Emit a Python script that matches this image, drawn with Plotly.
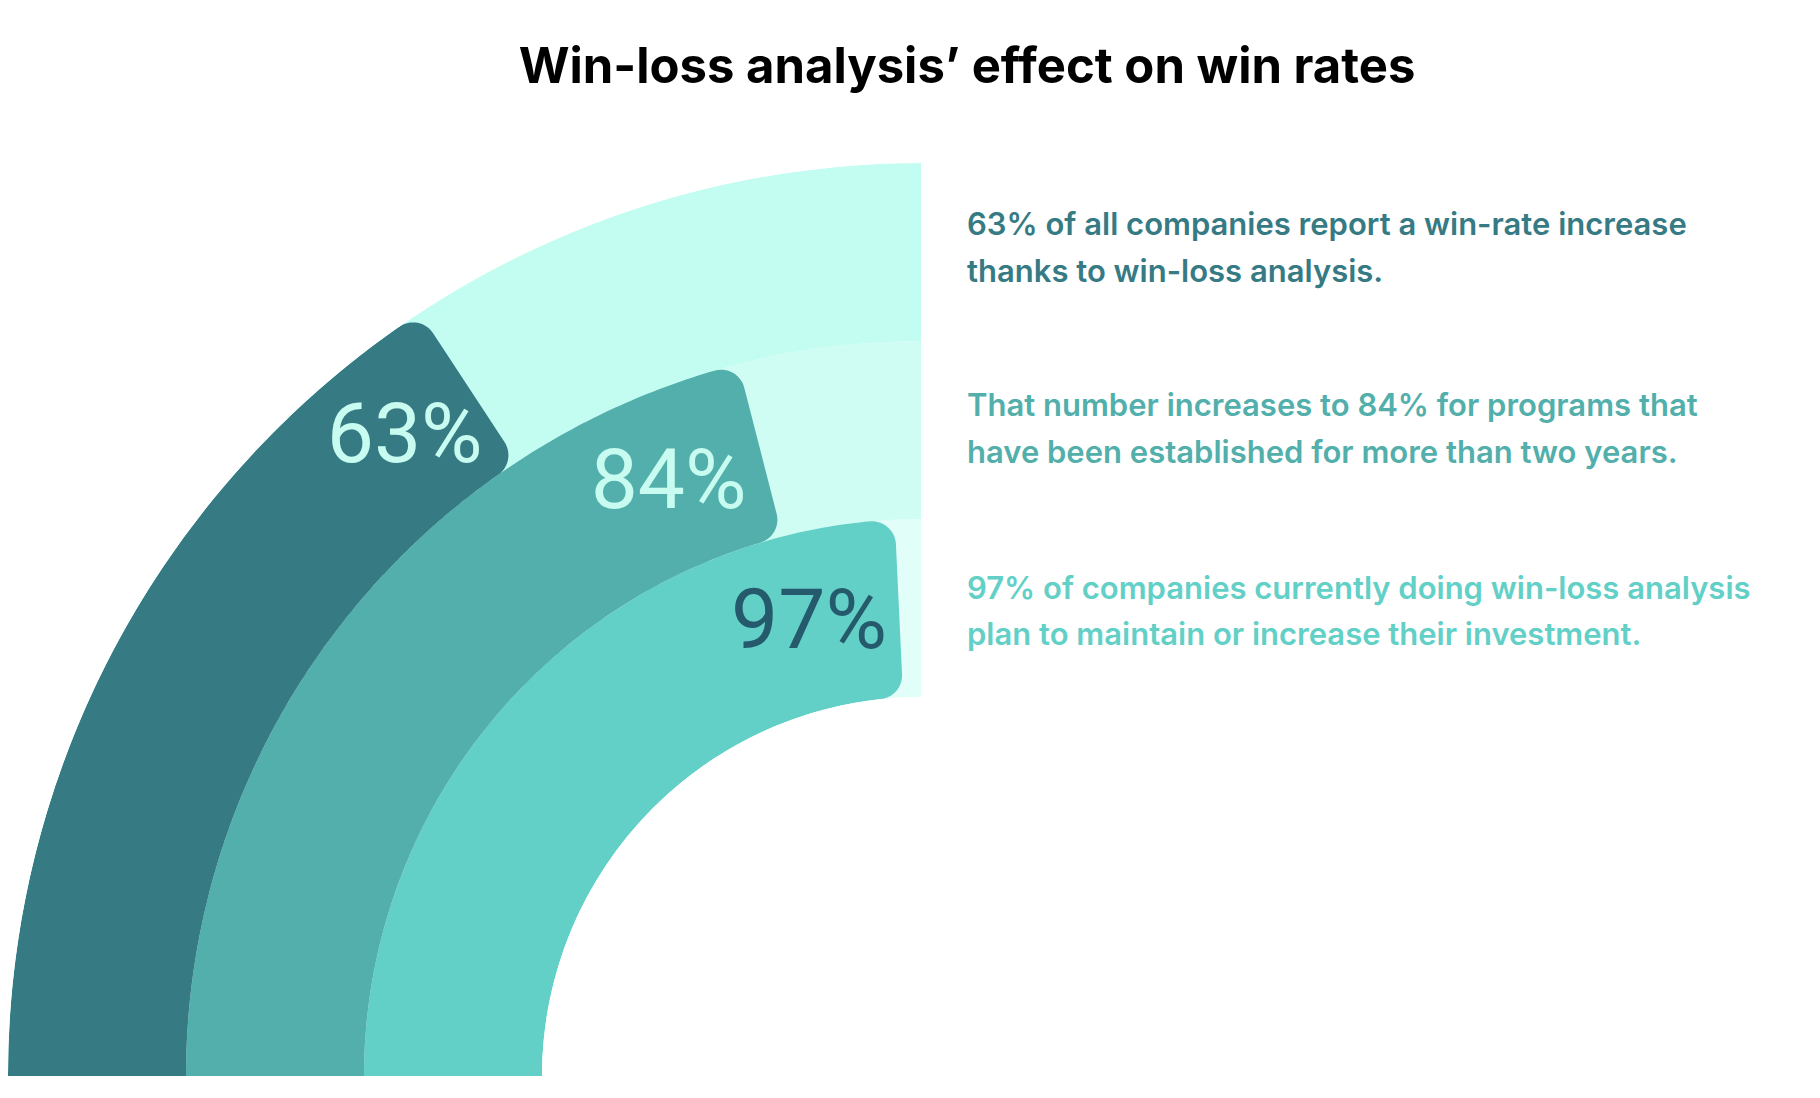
import math

import plotly.graph_objects as go

# Data
values = [97, 84, 63]  # inner to outer ring
labels = ["97%", "84%", "63%"]
bar_colors = ["#62d0c7", "#52afab", "#367b84"]
track_colors = ["#e1fef8", "#d0fdf3", "#c3fcf1"]
label_colors = ["#245a6b", "#c8fcf1", "#c8fcf1"]
label_back = [11.3, 8.8, 5.8]  # degrees the label sits behind the bar tip

notes = [
    ["63% of all companies report a win-rate increase", "thanks to win-loss analysis."],
    ["That number increases to 84% for programs that", "have been established for more than two years."],
    ["97% of companies currently doing win-loss analysis", "plan to maintain or increase their investment."],
]
note_colors = ["#367b84", "#52afab", "#62d0c7"]

title = "Win-loss analysis’ effect on win rates"

W, H = 1820, 1098
OFFX, OFFY = 12, 10  # page margin compensation
FULL = 90  # degrees for 100%

# polar geometry (pixels)
R_OUT = 913
R_HOLE = 379
UNIT = (R_OUT - R_HOLE) / 3
CORNER = 24
CX, CY = 925 - OFFX, 1076 - OFFY + 2


def rounded_bar(r0, r1, end_deg, n=160):
    # outline of a ring segment from 0 to end_deg with rounded tip corners
    R0 = R_HOLE + r0 * UNIT
    R1 = R_HOLE + r1 * UNIT
    pe = math.radians(end_deg)

    def xy(R, p):
        return (-R * math.cos(p), R * math.sin(p))

    def to_polar(x, y):
        R = math.hypot(x, y)
        p = math.atan2(y, -x)
        return (R - R_HOLE) / UNIT, math.degrees(p)

    pts = []
    # outer arc
    pco = pe - math.asin(CORNER / (R1 - CORNER))
    for k in range(n + 1):
        pts.append(to_polar(*xy(R1, pco * k / n)))
    # outer corner
    cx, cy = xy(R1 - CORNER, pco)
    a0 = math.atan2(math.sin(pco), -math.cos(pco))
    a1 = math.atan2(math.cos(pe), math.sin(pe))
    da = (a1 - a0 + math.pi) % (2 * math.pi) - math.pi
    for k in range(21):
        a = a0 + da * k / 20
        pts.append(to_polar(cx + CORNER * math.cos(a), cy + CORNER * math.sin(a)))
    # inner corner
    pci = pe - math.asin(CORNER / (R0 + CORNER))
    cx, cy = xy(R0 + CORNER, pci)
    b0 = a1
    b1 = math.atan2(-math.sin(pci), math.cos(pci))
    db = (b1 - b0 + math.pi) % (2 * math.pi) - math.pi
    for k in range(21):
        a = b0 + db * k / 20
        pts.append(to_polar(cx + CORNER * math.cos(a), cy + CORNER * math.sin(a)))
    # inner arc back to the start
    for k in range(n + 1):
        pts.append(to_polar(*xy(R0, pci * (n - k) / n)))
    pts.append(pts[0])
    return [p[0] for p in pts], [p[1] for p in pts]


fig = go.Figure()

# background tracks
for i, c in enumerate(track_colors):
    fig.add_trace(
        go.Barpolar(
            r=[1], base=[i], theta=[FULL / 2], width=[FULL],
            marker=dict(color=c, line=dict(width=0)),
            hoverinfo="skip", showlegend=False,
        )
    )

# value bars
for i, v in enumerate(values):
    rr, tt = rounded_bar(i, i + 1, v / 100 * FULL)
    fig.add_trace(
        go.Scatterpolar(
            r=rr, theta=tt, mode="lines", fill="toself",
            fillcolor=bar_colors[i], line=dict(width=0, color=bar_colors[i]),
            hovertemplate=labels[i] + "<extra></extra>", showlegend=False,
        )
    )

# labels near the bar tips
for i, v in enumerate(values):
    fig.add_trace(
        go.Scatterpolar(
            r=[i + 0.47], theta=[v / 100 * FULL - label_back[i]],
            mode="text", text=[labels[i]], textposition="middle center",
            textfont=dict(family="Roboto", size=84, color=label_colors[i], weight=400),
            hoverinfo="skip", showlegend=False,
        )
    )

fig.update_layout(
    width=W,
    height=H,
    margin=dict(l=0, r=0, t=0, b=0),
    paper_bgcolor="white",
    plot_bgcolor="white",
    showlegend=False,
    polar=dict(
        domain=dict(x=[(CX - R_OUT) / W, CX / W], y=[(H - CY) / H, (H - CY + R_OUT) / H]),
        sector=[90, 180],
        hole=R_HOLE / R_OUT,
        bgcolor="white",
        barmode="overlay",
        radialaxis=dict(range=[0, 3], visible=False, showgrid=False),
        angularaxis=dict(
            rotation=180, direction="clockwise",
            visible=False, showgrid=False, thetaunit="degrees",
        ),
    ),
    title=dict(
        text=title, x=(971 - OFFX) / W, xanchor="center",
        y=1 - (66 - OFFY + 2) / H, yanchor="middle",
        xref="paper", yref="container",
        font=dict(family="Inter", size=49, color="#000000", weight=700),
    ),
)

line_y = [[225, 272], [407, 453], [589, 635]]
for k, block in enumerate(notes):
    for j, line in enumerate(block):
        fig.add_annotation(
            text=line, x=(971 - 14) / W, y=1 - (line_y[k][j] - OFFY) / H,
            xref="paper", yref="paper", xanchor="left", yanchor="middle",
            showarrow=False,
            font=dict(family="Inter", size=31, color=note_colors[k], weight=600),
        )

fig.write_html("out.html")
